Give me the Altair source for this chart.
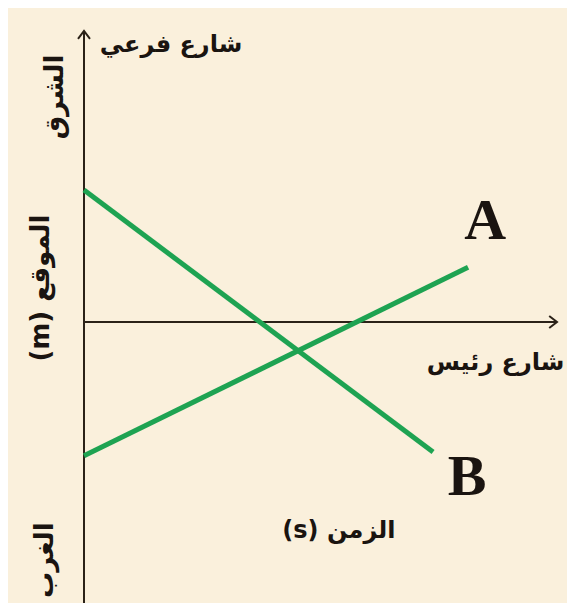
import altair as alt
import pandas as pd

# ---- data ----
# line A and line B (time, position); axes cross at position 0
time_A = [0.0, 8.12]
pos_A = [-2.76, 1.13]
time_B = [0.0, 7.38]
pos_B = [2.72, -2.68]

x_domain = [0.0, 10.0]
y_domain = [-5.794, 6.0]

line_labels = ["A", "B"]
line_label_x = [8.48, 8.10]
line_label_y = [2.06, -3.22]

horiz_labels = ["شارع فرعي", "شارع رئيس", "(s) الزمن"]
horiz_x = [1.84, 8.70, 5.39]
horiz_y = [5.71, -0.85, -4.31]

vert_labels = ["الشرق", "(m) الموقع", "الغرب"]
vert_x = [-0.61, -0.91, -0.82]
vert_y = [4.64, 0.70, -4.91]

GREEN = "#1ea352"
DARK = "#2b2218"
BG = "#faf0dc"

xs = alt.Scale(domain=x_domain, nice=False, zero=False)
ys = alt.Scale(domain=y_domain, nice=False, zero=False)


def X(f):
    return alt.X(f, type="quantitative", scale=xs, axis=None)


def Y(f):
    return alt.Y(f, type="quantitative", scale=ys, axis=None)


lines_df = pd.DataFrame({
    "series": ["A"] * len(time_A) + ["B"] * len(time_B),
    "t": time_A + time_B,
    "p": pos_A + pos_B,
})

axes_df = pd.DataFrame({
    "x": [x_domain[0], x_domain[0]],
    "y": [0.0, y_domain[0]],
    "x2": [x_domain[1], x_domain[0]],
    "y2": [0.0, y_domain[1]],
})

lines = alt.Chart(lines_df).mark_line(color=GREEN, strokeWidth=5, strokeCap="butt").encode(
    x=X("t"), y=Y("p"), detail="series:N"
)

axes = alt.Chart(axes_df).mark_rule(color=DARK, strokeWidth=2).encode(
    x=X("x"), y=Y("y"), x2="x2", y2="y2"
)

arrow_up = alt.Chart(pd.DataFrame({"x": [x_domain[0]], "y": [y_domain[1]]})).mark_point(
    shape="M -1 1.3 L 0 0 L 1 1.3", filled=False, stroke=DARK, strokeWidth=2, size=144, opacity=1
).encode(x=X("x"), y=Y("y"))

arrow_right = alt.Chart(pd.DataFrame({"x": [x_domain[1]], "y": [0.0]})).mark_point(
    shape="M -1.3 -1 L 0 0 L -1.3 1", filled=False, stroke=DARK, strokeWidth=2, size=144, opacity=1
).encode(x=X("x"), y=Y("y"))

ab_text = alt.Chart(pd.DataFrame({"l": line_labels, "x": line_label_x, "y": line_label_y})).mark_text(
    font="Liberation Serif", fontWeight="bold", fontSize=58, color="#1a1410",
    align="center", baseline="middle"
).encode(x=X("x"), y=Y("y"), text="l:N")

h_text = alt.Chart(pd.DataFrame({"l": horiz_labels, "x": horiz_x, "y": horiz_y})).mark_text(
    font="DejaVu Sans", fontWeight="bold", fontSize=24, color="#1a1410",
    align="center", baseline="middle"
).encode(x=X("x"), y=Y("y"), text="l:N")

v_text = alt.Chart(pd.DataFrame({"l": vert_labels, "x": vert_x, "y": vert_y})).mark_text(
    font="DejaVu Sans", fontWeight="bold", fontSize=26, color="#1a1410",
    align="center", baseline="middle", angle=270
).encode(x=X("x"), y=Y("y"), text="l:N")

chart = alt.layer(axes, lines, arrow_up, arrow_right, ab_text, h_text, v_text).properties(
    width=473,
    height=572,
    padding={"left": 76, "top": 23, "right": 10, "bottom": 0},
    autosize="none",
    background=BG,
).configure_view(stroke=None)

chart.save("out.html", embed_options={"renderer": "svg", "actions": False})
